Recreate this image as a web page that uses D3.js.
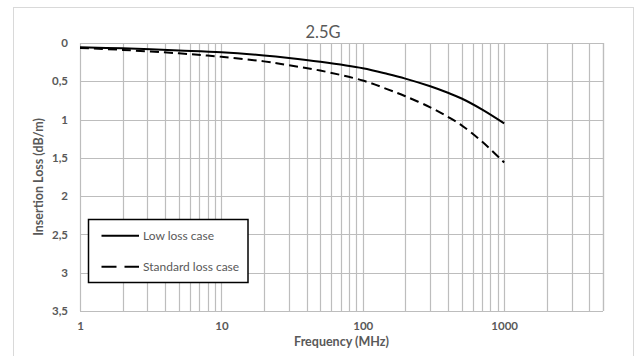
<!DOCTYPE html>
<html>
<head>
<meta charset="utf-8">
<script src="https://cdn.jsdelivr.net/npm/d3@7"></script>
<style>
  html, body { margin: 0; padding: 0; background: #fff; }
  svg { display: block; }
  text { font-family: Lato, "Open Sans", sans-serif; }
</style>
</head>
<body>
<script>
// ---- data ----
const title = "2.5G";
const frequencies = [1, 2, 5, 10, 20, 30, 50, 100, 150, 200, 300, 400, 500, 700, 1000];
const lowLoss =      [0.055, 0.07, 0.097, 0.12, 0.162, 0.195, 0.245, 0.33, 0.405, 0.465, 0.565, 0.65, 0.725, 0.87, 1.05];
const standardLoss = [0.065, 0.09, 0.135, 0.18, 0.24, 0.29, 0.36, 0.49, 0.605, 0.695, 0.84, 0.965, 1.075, 1.29, 1.56];
const seriesNames = ["Low loss case", "Standard loss case"];
const xTickValues = [1, 10, 100, 1000];
const yTickValues = [0, 0.5, 1, 1.5, 2, 2.5, 3, 3.5];
const xDomain = [1, 5000];
const yDomain = [0, 3.5];
const xTitle = "Frequency (MHz)";
const yTitle = "Insertion Loss (dB/m)";

const W = 637, H = 356;
const m = { left: 80, right: 603, top: 43, bottom: 311 };

const svg = d3.select("body").append("svg").attr("width", W).attr("height", H);

// outer chart border
svg.append("rect").attr("x", 13.5).attr("y", 7.5).attr("width", 620).attr("height", 360)
  .attr("fill", "#fff").attr("stroke", "#d9d9d9").attr("stroke-width", 1);

const x = d3.scaleLog().domain(xDomain).range([m.left, m.right]);
const y = d3.scaleLinear().domain(yDomain).range([m.top, m.bottom]);

// vertical gridlines: every integer multiple within each decade
const vLines = [];
for (let dec = 1; dec <= 1000; dec *= 10) {
  for (let k = 1; k <= 9; k++) {
    const v = dec * k;
    if (v <= xDomain[1]) vLines.push(v);
  }
}
vLines.push(xDomain[1]);

const grid = svg.append("g").attr("stroke", "#bdbdbd").attr("stroke-width", 1.2);
grid.selectAll("line.v").data(vLines).join("line")
  .attr("x1", d => Math.round(x(d)) + 0.5).attr("x2", d => Math.round(x(d)) + 0.5)
  .attr("y1", m.top).attr("y2", m.bottom);
grid.selectAll("line.h").data(yTickValues).join("line")
  .attr("x1", m.left).attr("x2", m.right)
  .attr("y1", d => Math.round(y(d)) + 0.5).attr("y2", d => Math.round(y(d)) + 0.5);

// axes (labels only)
const fmt = d => String(d).replace(".", ",");
const yAxis = svg.append("g").attr("transform", `translate(${m.left - 12},0)`)
  .call(d3.axisLeft(y).tickValues(yTickValues).tickFormat(fmt).tickSize(0).tickPadding(0));
yAxis.select(".domain").remove();
yAxis.selectAll("text").attr("fill", "#595959").attr("font-size", 11.5).attr("font-weight", "bold")
  .attr("font-family", "Lato, sans-serif");

const xAxis = svg.append("g").attr("transform", `translate(0,${m.bottom + 11})`)
  .call(d3.axisBottom(x).tickValues(xTickValues).tickFormat(d3.format("d")).tickSize(0).tickPadding(0));
xAxis.select(".domain").remove();
xAxis.selectAll("text").attr("fill", "#595959").attr("font-size", 11.5).attr("font-weight", "bold")
  .attr("font-family", "Lato, sans-serif");

// titles
svg.append("text").attr("x", 323).attr("y", 38).attr("text-anchor", "middle")
  .attr("fill", "#595959").attr("font-size", 16.5).text(title);
svg.append("text").attr("x", (m.left + m.right) / 2).attr("y", 346).attr("text-anchor", "middle")
  .attr("fill", "#595959").attr("font-size", 12.5).attr("font-weight", "bold").text(xTitle);
svg.append("text").attr("transform", `translate(43,${(m.top + m.bottom) / 2}) rotate(-90)`)
  .attr("text-anchor", "middle").attr("fill", "#595959").attr("font-size", 12.5)
  .attr("font-weight", "bold").text(yTitle);

// lines
const line = d3.line().x(d => x(d[0])).y(d => y(d[1])).curve(d3.curveCatmullRom.alpha(0.5));
const series = [
  { name: seriesNames[0], values: lowLoss, dash: null, legendDash: null },
  { name: seriesNames[1], values: standardLoss, dash: "9,5", legendDash: "15,8" }
];
series.forEach(s => {
  svg.append("path").datum(frequencies.map((f, i) => [f, s.values[i]]))
    .attr("d", line).attr("fill", "none").attr("stroke", "#000").attr("stroke-width", 2)
    .attr("stroke-dasharray", s.dash);
});

// legend
const lg = svg.append("g");
lg.append("rect").attr("x", 88.5).attr("y", 219.5).attr("width", 159.5).attr("height", 63)
  .attr("fill", "#fff").attr("stroke", "#000").attr("stroke-width", 1.5);
series.forEach((s, i) => {
  const ly = 235.7 + i * 31;
  lg.append("line").attr("x1", 101.5).attr("x2", 139).attr("y1", ly).attr("y2", ly)
    .attr("stroke", "#000").attr("stroke-width", 2).attr("stroke-dasharray", s.legendDash);
  lg.append("text").attr("x", 143).attr("y", ly).attr("dy", "0.35em")
    .attr("fill", "#595959").attr("font-size", 12).text(s.name);
});
</script>
</body>
</html>
